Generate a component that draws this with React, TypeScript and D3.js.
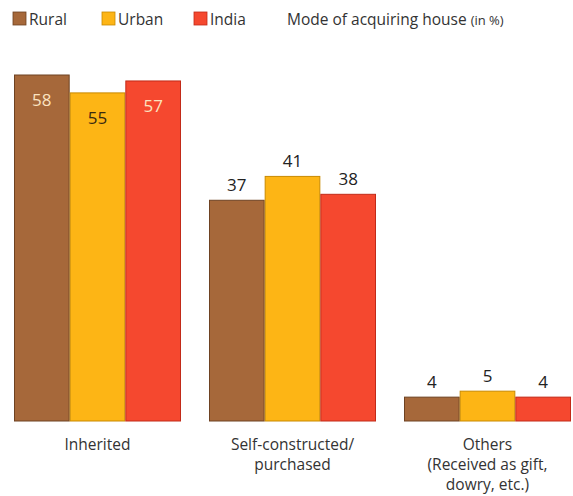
import React from 'react';
import * as d3 from 'd3';

const categories = ['Inherited', 'Self-constructed/purchased', 'Others'];
const categoryLines = [['Inherited'], ['Self-constructed/', 'purchased'], ['Others', '(Received as gift,', 'dowry, etc.)']];
const seriesNames = ['Rural', 'Urban', 'India'];
const rural = [58, 37, 4];
const urban = [55, 41, 5];
const india = [57, 38, 4];
const seriesValues = [rural, urban, india];

const fills = ['#A6683A', '#FDB515', '#F5482F'];
const strokes = ['#6E4222', '#C98A00', '#C22A18'];
const W = 573;
const H = 496;
const font = "'Open Sans', 'Noto Sans', sans-serif";

export default function App() {
  const x0 = d3.scaleBand<string>().domain(categories).range([14, 571]).paddingInner(28 / 195).paddingOuter(0);
  const x1 = d3.scaleBand<string>().domain(seriesNames).range([0, x0.bandwidth()]).padding(0);
  const y = d3.scaleLinear().domain([0, 58]).range([421, 75]);

  // value labels: first group inside the bars, others above
  const labelColor = (ci: number, si: number) => (ci === 0 ? (si === 1 ? '#3a2a10' : '#FBE3C0') : '#222');

  return (
    <svg width={W} height={H} style={{ position: 'absolute', left: 0, top: 0, background: '#fff' }} fontFamily={font}>
      {/* legend */}
      {seriesNames.map((s, i) => {
        const lx = [13, 102, 194][i];
        return (
          <g key={s}>
            <rect x={lx} y={12} width={13} height={13} fill={fills[i]} stroke={strokes[i]} strokeWidth={0.8} />
            <text x={lx + 16} y={24.5} fontSize={15.5} fill="#333">{s}</text>
          </g>
        );
      })}
      <text x={287} y={24.5} fontSize={15.5} fill="#333">
        Mode of acquiring house <tspan fontSize={13}>(in %)</tspan>
      </text>

      {categories.map((c, ci) => (
        <g key={c} transform={`translate(${x0(c)},0)`}>
          {seriesNames.map((s, si) => {
            const v = seriesValues[si][ci];
            const bx = x1(s) as number;
            const top = y(v);
            const inside = ci === 0;
            return (
              <g key={s}>
                <rect x={bx + 0.5} y={top} width={x1.bandwidth() - 1} height={y(0) - top}
                  fill={fills[si]} stroke={strokes[si]} strokeWidth={1} />
                <text x={bx + x1.bandwidth() / 2} y={inside ? top + 31 : top - 9}
                  textAnchor="middle" fontSize={17} fill={labelColor(ci, si)}>{v}</text>
              </g>
            );
          })}
          {categoryLines[ci].map((line, li) => (
            <text key={li} x={x0.bandwidth() / 2} y={450 + li * 20} textAnchor="middle"
              fontSize={15.5} fill="#333">{line}</text>
          ))}
        </g>
      ))}
    </svg>
  );
}
